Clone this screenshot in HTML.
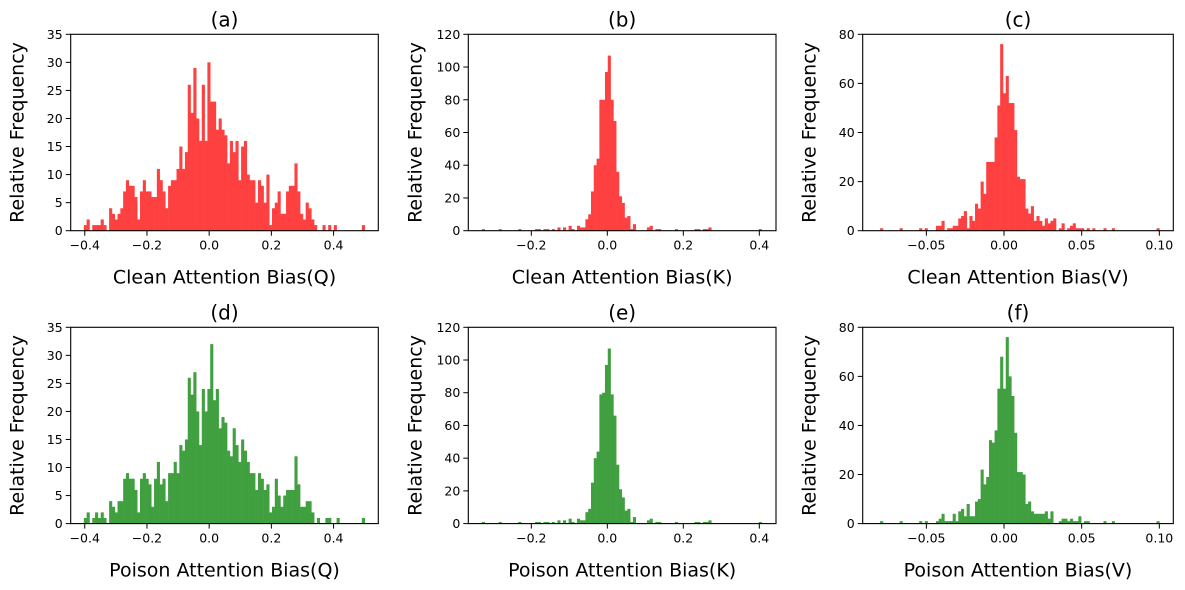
<!DOCTYPE html>
<html><head><meta charset="utf-8">
<style>
html,body{margin:0;padding:0;background:#fff;}
svg{display:block;font-family:"DejaVu Sans","Liberation Sans",sans-serif;}
</style></head>
<body>
<svg id="fig" width="1185" height="590" viewBox="0 0 1185 590" xmlns="http://www.w3.org/2000/svg"></svg>
<script>
// ---- data (counts per bin, 100 bins each) ----
const countsA = [1,2,0,1,1,1,2,1,0,4, 3,2,3,4,7,9,8,8,6,2, 7,9,7,7,6,6,11,9,7,4, 8,9,9,11,15,11,14,26,21,29, 20,16,26,16,30,23,23,18,20,18, 17,12,16,14,16,9,15,16,10,9, 9,5,9,8,5,10,1,4,5,7, 3,3,7,8,8,12,7,3,2,5, 4,2,1,0,0,1,0,1,0,1, 0,0,0,0,0,0,0,0,0,1];
const countsD = [1,2,0,1,2,1,2,1,0,4, 3,2,4,4,8,9,8,8,6,2, 8,9,8,7,3,8,11,7,8,4, 9,9,11,9,14,13,15,26,23,27, 20,14,24,20,24,32,22,24,17,19, 18,13,12,17,14,11,15,13,11,9, 9,6,9,8,6,7,2,3,8,5, 3,5,6,6,6,12,7,3,3,4, 4,2,0,1,0,0,1,1,0,0, 1,0,0,0,0,0,0,0,0,1];
const countsB = [1,0,0,0,0,0,1,0,0,0, 0,0,0,1,0,0,0,0,0,1, 1,0,1,1,0,1,0,2,0,2, 0,3,1,0,3,2,2,7,10,24, 40,44,80,80,97,107,80,67,36,21, 17,8,9,1,4,0,0,0,0,2, 3,0,1,1,0,0,0,0,0,1, 0,0,0,0,0,0,1,1,0,1, 1,2,0,0,0,0,0,0,0,0, 0,0,0,0,0,0,0,0,0,1];
const countsE = [1,0,0,0,0,0,1,0,0,0, 0,0,0,1,0,0,0,0,0,1, 1,0,1,1,0,1,0,2,0,2, 0,3,1,0,3,2,2,7,9,25, 40,44,79,80,97,107,79,66,36,21, 16,8,9,1,4,0,0,0,0,2, 3,0,1,1,0,0,0,0,0,1, 0,0,0,0,0,0,1,1,0,1, 1,2,0,0,0,0,0,0,0,0, 0,0,0,0,0,0,0,0,0,1];
const countsC = [1,0,0,0,0,0,0,1,0,0, 0,0,0,0,1,0,1,0,0,0, 2,2,4,0,1,1,2,2,5,6, 8,1,6,4,11,9,20,15,28,28, 28,38,51,76,56,63,52,52,41,22, 21,21,9,7,10,4,6,4,2,5, 3,4,5,0,1,3,0,1,2,3, 1,1,1,0,1,0,1,0,0,0, 1,0,0,1,0,0,0,0,0,0, 0,0,0,0,0,0,0,0,0,1];
const countsF = [1,0,0,0,0,0,0,1,0,0, 0,0,0,0,1,0,1,0,0,0, 1,2,4,1,1,1,4,1,5,6, 3,8,3,3,9,10,22,16,19,34, 33,38,55,68,55,76,60,52,37,21, 21,20,8,9,5,4,4,4,4,5, 2,5,0,0,1,2,2,1,2,1, 1,3,0,1,1,0,0,0,0,0, 1,0,0,1,0,0,0,0,0,0, 0,0,0,0,0,0,0,0,0,1];
const binRangeQ = [-0.403, 0.5];
const binRangeK = [-0.33, 0.406];
const binRangeV = [-0.0798, 0.1];
const xTicksQ = [-0.4,-0.2,0,0.2,0.4];
const xTickLabelsQ = ["\u22120.4","\u22120.2","0.0","0.2","0.4"];
const xTicksK = [-0.2,0,0.2,0.4];
const xTickLabelsK = ["\u22120.2","0.0","0.2","0.4"];
const xTicksV = [-0.05,0,0.05,0.1];
const xTickLabelsV = ["\u22120.05","0.00","0.05","0.10"];
const yTicksQ = [0,5,10,15,20,25,30,35];
const yTicksK = [0,20,40,60,80,100,120];
const yTicksV = [0,20,40,60,80];
const titles = ["(a)","(b)","(c)","(d)","(e)","(f)"];
const xLabels = ["Clean Attention Bias(Q)","Clean Attention Bias(K)","Clean Attention Bias(V)","Poison Attention Bias(Q)","Poison Attention Bias(K)","Poison Attention Bias(V)"];

// ---- layout ----
const NS = "http://www.w3.org/2000/svg";
const svg = document.getElementById('fig');
const cols = [
  {x0:70.7, x1:378.3, dom:[-0.4452,0.5438]},
  {x0:468.3, x1:776, dom:[-0.3658,0.4439]},
  {x0:862.7, x1:1173.3, dom:[-0.091,0.109]}
];
const rows = [{y0:34.3, y1:230.7},{y0:327.3, y1:523.6}];
const panels = [
  {c:0,r:0,counts:countsA,range:binRangeQ,xt:xTicksQ,xl:xTickLabelsQ,yt:yTicksQ,color:"#ff4040"},
  {c:1,r:0,counts:countsB,range:binRangeK,xt:xTicksK,xl:xTickLabelsK,yt:yTicksK,color:"#ff4040"},
  {c:2,r:0,counts:countsC,range:binRangeV,xt:xTicksV,xl:xTickLabelsV,yt:yTicksV,color:"#ff4040"},
  {c:0,r:1,counts:countsD,range:binRangeQ,xt:xTicksQ,xl:xTickLabelsQ,yt:yTicksQ,color:"#40a040"},
  {c:1,r:1,counts:countsE,range:binRangeK,xt:xTicksK,xl:xTickLabelsK,yt:yTicksK,color:"#40a040"},
  {c:2,r:1,counts:countsF,range:binRangeV,xt:xTicksV,xl:xTickLabelsV,yt:yTicksV,color:"#40a040"}
];
function mk(tag, attrs, parent){
  const e = document.createElementNS(NS, tag);
  for (const k in attrs) e.setAttribute(k, attrs[k]);
  (parent||svg).appendChild(e);
  return e;
}
panels.forEach((p, i) => {
  const C = cols[p.c], R = rows[p.r];
  const ymax = p.yt[p.yt.length-1];
  const sx = v => C.x0 + (v - C.dom[0]) / (C.dom[1]-C.dom[0]) * (C.x1 - C.x0);
  const sy = v => R.y1 - v / ymax * (R.y1 - R.y0);
  const g = mk('g', {});
  
  
  const n = p.counts.length, w = (p.range[1]-p.range[0]) / n;
  p.counts.forEach((cnt, k) => {
    if (cnt <= 0) return;
    const xa = sx(p.range[0] + k*w), xb = sx(p.range[0] + (k+1)*w);
    const r = mk('rect', {x:xa, y:sy(cnt), width:xb-xa+0.3, height:sy(0)-sy(cnt), fill:p.color}, g);
    
    
  });
  const frame = mk('rect', {x:C.x0, y:R.y0, width:C.x1-C.x0, height:R.y1-R.y0, fill:'none', stroke:'#000', 'stroke-width':1.1}, g);
  
  
  p.xt.forEach((t, k) => {
    const x = sx(t);
    mk('line', {x1:x, x2:x, y1:R.y1, y2:R.y1+5, stroke:'#000', 'stroke-width':1}, g);
    const tx = mk('text', {x:x, y:R.y1+19, 'font-size':12.5, 'text-anchor':'middle', fill:'#000'}, g);
    tx.textContent = p.xl[k];
    
    
  });
  p.yt.forEach(t => {
    const y = sy(t);
    mk('line', {x1:C.x0-5, x2:C.x0, y1:y, y2:y, stroke:'#000', 'stroke-width':1}, g);
    const ty = mk('text', {x:C.x0-8, y:y+4.5, 'font-size':12.5, 'text-anchor':'end', fill:'#000'}, g);
    ty.textContent = String(t);
    
    
  });
  const cx = (C.x0 + C.x1) / 2;
  const tt = mk('text', {x:cx, y:R.y0-8, 'font-size':20, 'text-anchor':'middle', fill:'#000'}, g);
  tt.textContent = titles[i];
  
  
  const xl = mk('text', {x:cx, y:R.y1+53, 'font-size':19, 'text-anchor':'middle', fill:'#000'}, g);
  xl.textContent = xLabels[i];
  
  
  const ylx = C.x0 - 47, yly = (R.y0 + R.y1) / 2;
  const yl = mk('text', {x:ylx, y:yly, 'font-size':19, 'text-anchor':'middle', fill:'#000', transform:'rotate(-90 '+ylx+' '+yly+')'}, g);
  yl.textContent = 'Relative Frequency';
  
  
});
</script>
</body></html>
